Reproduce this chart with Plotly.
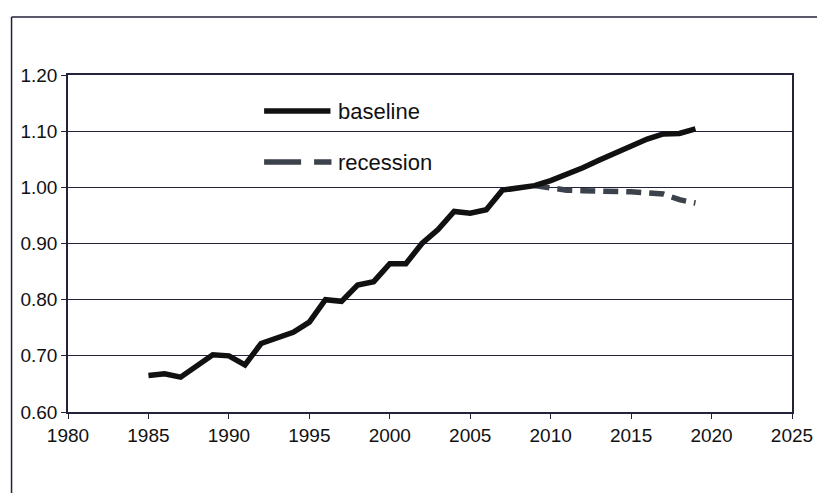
import plotly.graph_objects as go

years = list(range(1985, 2020))
baseline = [0.665, 0.668, 0.662, 0.682, 0.702, 0.700, 0.684, 0.722, 0.731, 0.742,
            0.760, 0.800, 0.797, 0.826, 0.832, 0.864, 0.864, 0.900, 0.925, 0.957,
            0.954, 0.960, 0.995, 0.998, 1.003, 1.012, 1.023, 1.035, 1.048, 1.060,
            1.073, 1.086, 1.095, 1.096, 1.104]
rec_years = list(range(2009, 2020))
recession = [1.003, 0.998, 0.995, 0.994, 0.994, 0.993, 0.992, 0.990, 0.988, 0.978, 0.972]

x_ticks = list(range(1980, 2030, 5))
y_ticks = [0.60, 0.70, 0.80, 0.90, 1.00, 1.10, 1.20]
legend_names = ["baseline", "recession"]

# page has an 8px body margin; figure sized so the plot lands where the reference has it
OFF = 8
W, H = 825 - OFF, 493 - OFF
L, R, T, B = 67 - OFF, 27, 75 - OFF, 81
pw, ph = W - L - R, H - T - B

def px(xp):  # page pixel -> paper
    return (xp - OFF - L) / pw

def py(yp):
    return (H - B - (yp - OFF)) / ph

fig = go.Figure()
fig.add_trace(go.Scatter(x=rec_years, y=recession, mode="lines", name=legend_names[1],
                         line=dict(color="#3b424c", width=5.5, dash="15px,8px"),
                         showlegend=False))
fig.add_trace(go.Scatter(x=years, y=baseline, mode="lines", name=legend_names[0],
                         line=dict(color="#111111", width=5.5),
                         showlegend=False))

axis_col = "#22223a"
tickfont = dict(family="Liberation Sans, Arial", size=19, color="#111")
fig.update_xaxes(range=[1980, 2025], tickvals=x_ticks, ticks="outside", ticklen=5,
                 tickcolor=axis_col, showgrid=False, zeroline=False,
                 showline=True, linecolor=axis_col, linewidth=1.5, mirror=True,
                 tickfont=tickfont)
fig.update_yaxes(range=[0.60, 1.20], tickvals=y_ticks, tickformat=".2f", ticks="outside",
                 ticklen=5, tickcolor=axis_col, showgrid=True, gridcolor=axis_col,
                 gridwidth=1.2, zeroline=False,
                 showline=True, linecolor=axis_col, linewidth=1.5, mirror=True,
                 tickfont=tickfont)

shapes = [
    # outer frame (scanned page border)
    dict(type="line", xref="paper", yref="paper", x0=px(10), x1=px(830), y0=py(17), y1=py(17),
         line=dict(color="#22223a", width=1.5)),
    dict(type="line", xref="paper", yref="paper", x0=px(10), x1=px(10), y0=py(17), y1=py(500),
         line=dict(color="#22223a", width=1.5)),
    # legend samples
    dict(type="line", xref="paper", yref="paper", x0=px(265), x1=px(332), y0=py(111), y1=py(111),
         line=dict(color="#111111", width=5.5)),
    dict(type="line", xref="paper", yref="paper", x0=px(265), x1=px(333), y0=py(162), y1=py(162),
         line=dict(color="#3b424c", width=5.5, dash="37px,13px")),
]
legfont = dict(family="Liberation Sans, Arial", size=22, color="#111")
annotations = [
    dict(xref="paper", yref="paper", x=px(338), y=py(111), text=legend_names[0], showarrow=False,
         xanchor="left", yanchor="middle", font=legfont),
    dict(xref="paper", yref="paper", x=px(338), y=py(162), text=legend_names[1], showarrow=False,
         xanchor="left", yanchor="middle", font=legfont),
]

fig.update_layout(width=W, height=H, margin=dict(l=L, r=R, t=T, b=B),
                  paper_bgcolor="white", plot_bgcolor="white",
                  shapes=shapes, annotations=annotations, showlegend=False)

fig.write_html("out.html")
